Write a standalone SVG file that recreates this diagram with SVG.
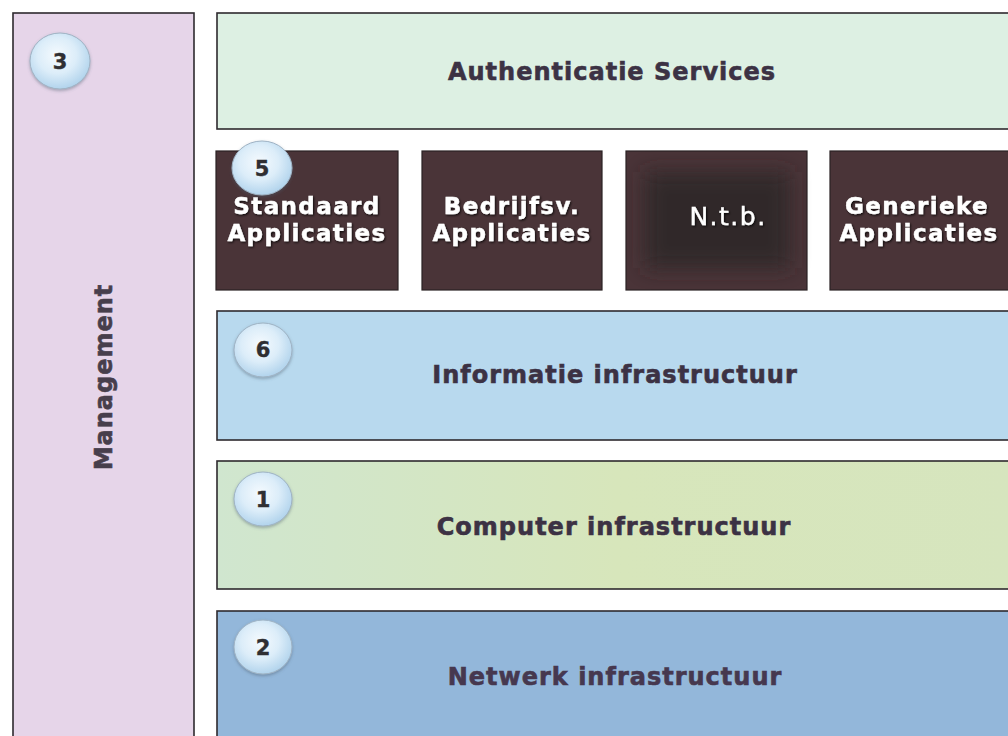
<svg xmlns="http://www.w3.org/2000/svg" width="1008" height="736" viewBox="0 0 1008 736">
  <style>
    .frame { stroke: #2e2a2e; stroke-width: 1.6; }
    .layer-label { font-family: "DejaVu Sans", Verdana, sans-serif; font-weight: bold; font-size: 24px; letter-spacing: 1px; fill: #3c3244; stroke: #3c3244; stroke-width: 0.6; text-anchor: middle; }
    .app { fill: #4a3438; stroke: #2a2224; stroke-width: 1.2; }
    .app-label { font-family: "DejaVu Sans", Verdana, sans-serif; font-weight: bold; font-size: 23px; letter-spacing: 1.4px; fill: #ffffff; stroke: #ffffff; stroke-width: 0.4; text-anchor: middle; filter: url(#txtShadow); }
    .badge { fill: url(#badgeFill); stroke: #9fb3c4; stroke-width: 1; filter: url(#badgeShadow); }
    .badge-num { font-family: "DejaVu Sans", Verdana, sans-serif; font-weight: bold; font-size: 21px; fill: #2f2f33; stroke: #2f2f33; stroke-width: 0.4; text-anchor: middle; }
  </style>
  <defs>
    <radialGradient id="badgeFill" cx="0.45" cy="0.4" r="0.65">
      <stop offset="0" stop-color="#f5fafe"/>
      <stop offset="0.5" stop-color="#dcedf9"/>
      <stop offset="1" stop-color="#aacfea"/>
    </radialGradient>
    <linearGradient id="computerFill" x1="0" y1="0" x2="1" y2="0">
      <stop offset="0" stop-color="#d0e6cf"/>
      <stop offset="0.5" stop-color="#d7e6bb"/>
      <stop offset="1" stop-color="#d6e5be"/>
    </linearGradient>
    <filter id="badgeShadow" x="-30%" y="-30%" width="160%" height="160%">
      <feDropShadow dx="0" dy="1.5" stdDeviation="1.5" flood-color="#4a5a6a" flood-opacity="0.45"/>
    </filter>
    <filter id="txtShadow" x="-10%" y="-30%" width="120%" height="160%">
      <feDropShadow dx="1" dy="1.2" stdDeviation="0.8" flood-color="#000000" flood-opacity="0.8"/>
    </filter>
    <filter id="soft" x="-30%" y="-30%" width="160%" height="160%">
      <feGaussianBlur stdDeviation="10"/>
    </filter>
  </defs>

  <rect width="1008" height="736" fill="#ffffff"/>

  <!-- Management column -->
  <g id="management">
    <rect class="frame" x="13" y="13" width="181" height="740" fill="#e6d5e9"/>
    <text class="layer-label" transform="translate(112,377) rotate(-90)" style="fill:#473e4c;stroke:#473e4c">Management</text>
    <ellipse class="badge" cx="60" cy="61" rx="30" ry="28"/>
    <text class="badge-num" x="60" y="69">3</text>
  </g>

  <!-- Authentication services layer -->
  <g id="authenticatie">
    <rect class="frame" x="217" y="13" width="800" height="116" fill="#ddf0e3"/>
    <text class="layer-label" x="612" y="80">Authenticatie Services</text>
  </g>

  <!-- Application blocks -->
  <g id="standaard-applicaties">
    <rect class="app" x="216" y="151" width="182" height="139"/>
    <text class="app-label" x="307" y="214">Standaard</text>
    <text class="app-label" x="307" y="241">Applicaties</text>
  </g>
  <g id="bedrijfsv-applicaties">
    <rect class="app" x="422" y="151" width="180" height="139"/>
    <text class="app-label" x="512" y="214">Bedrijfsv.</text>
    <text class="app-label" x="512" y="241">Applicaties</text>
  </g>
  <g id="ntb">
    <rect class="app" x="626" y="151" width="181" height="139"/>
    <rect x="645" y="172" width="145" height="96" fill="#2c2527" opacity="0.8" filter="url(#soft)"/>
    <text class="app-label" x="728" y="225" style="font-weight:normal;font-size:25px;letter-spacing:1.5px">N.t.b.</text>
  </g>
  <g id="generieke-applicaties">
    <rect class="app" x="830" y="151" width="190" height="139"/>
    <text class="app-label" x="917" y="214">Generieke</text>
    <text class="app-label" x="919" y="241">Applicaties</text>
  </g>
  <g id="badge-5">
    <ellipse class="badge" cx="262" cy="168" rx="30" ry="27"/>
    <text class="badge-num" x="262" y="176">5</text>
  </g>

  <!-- Information infrastructure -->
  <g id="informatie">
    <rect class="frame" x="217" y="311" width="800" height="129" fill="#b8d9ee"/>
    <text class="layer-label" x="615" y="383">Informatie infrastructuur</text>
    <ellipse class="badge" cx="263" cy="350" rx="29" ry="27"/>
    <text class="badge-num" x="263" y="357">6</text>
  </g>

  <!-- Computer infrastructure -->
  <g id="computer">
    <rect class="frame" x="217" y="461" width="800" height="128" fill="url(#computerFill)"/>
    <text class="layer-label" x="614" y="535">Computer infrastructuur</text>
    <ellipse class="badge" cx="263" cy="499" rx="29" ry="27"/>
    <text class="badge-num" x="263" y="507">1</text>
  </g>

  <!-- Network infrastructure -->
  <g id="netwerk">
    <rect class="frame" x="217" y="611" width="800" height="140" fill="#93b7da"/>
    <text class="layer-label" x="615" y="685" style="fill:#46384f;stroke:#46384f">Netwerk infrastructuur</text>
    <ellipse class="badge" cx="263" cy="647" rx="29" ry="27"/>
    <text class="badge-num" x="263" y="655">2</text>
  </g>

  <g id="connectors"/>
</svg>
